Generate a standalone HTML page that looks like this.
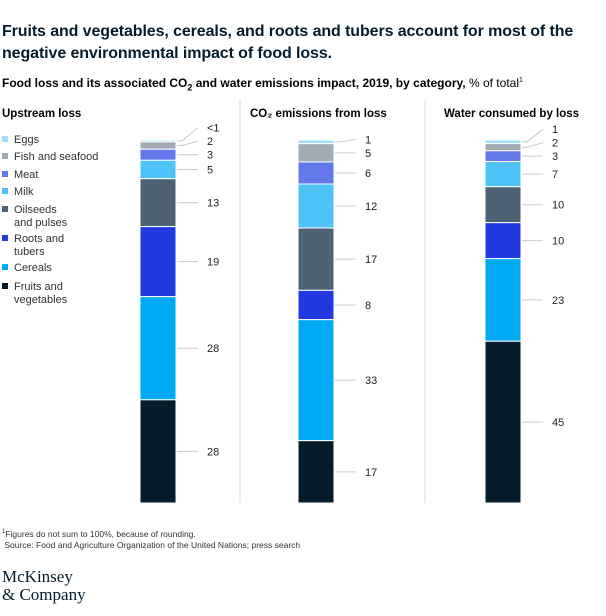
<!DOCTYPE html>
<html><head><meta charset="utf-8"><style>
body{margin:0;background:#fff;font-family:"Liberation Sans",sans-serif;color:#000;width:606px;height:616px;overflow:hidden;position:relative}
.t{position:absolute;white-space:nowrap}
</style></head><body>
<div class="t" style="left:2px;top:21px;font-size:16px;font-weight:bold;line-height:22px;color:#051c2c;letter-spacing:-0.1px">Fruits and vegetables, cereals, and roots and tubers account for most of the<br>negative environmental impact of food loss.</div>
<div class="t" style="left:2px;top:76px;font-size:12px;"><b>Food loss and its associated CO<sub style="font-size:9px">2</sub> and water emissions impact, 2019, by category,</b> % of total<sup style="font-size:7px">1</sup></div>
<svg width="606" height="616" style="position:absolute;left:0;top:0" id="svg"></svg>
<div class="t" style="left:2px;top:527px;font-size:8.5px;color:#333;line-height:11px"><sup style="font-size:6px">1</sup>Figures do not sum to 100%, because of rounding.<br>&nbsp;Source: Food and Agriculture Organization of the United Nations; press search</div>
<div class="t" style="left:2px;top:568px;font-family:'Liberation Serif',serif;font-size:17px;line-height:18px;color:#051c2c">McKinsey<br>&amp; Company</div>
<script>
const categories=["Eggs","Fish and seafood","Meat","Milk","Oilseeds and pulses","Roots and tubers","Cereals","Fruits and vegetables"];
const upstream=[0.5,2,3,5,13,19,28,28];
const upstreamLabels=["<1","2","3","5","13","19","28","28"];
const co2=[1,5,6,12,17,8,33,17];
const co2Labels=["1","5","6","12","17","8","33","17"];
const water=[1,2,3,7,10,10,23,45];
const waterLabels=["1","2","3","7","10","10","23","45"];
const colors=["#a3e1fb","#a2abb3","#6378ea","#4fc3f7","#4e6275","#203ae0","#00a9f4","#051c2c"];
const NS="http://www.w3.org/2000/svg";
const svg=document.getElementById('svg');
function mk(tag,attrs){const e=document.createElementNS(NS,tag);for(const k in attrs)e.setAttribute(k,attrs[k]);svg.appendChild(e);return e;}
const top0=140,bot=503;
const panels=[{x:140,vals:upstream,labs:upstreamLabels,title:"Upstream loss",tx:2},
{x:298,vals:co2,labs:co2Labels,title:"CO₂ emissions from loss",tx:250},
{x:485,vals:water,labs:waterLabels,title:"Water consumed by loss",tx:444}];
panels.forEach((p,pi)=>{
 const t=mk('text',{x:p.tx,y:117,'font-size':11.5,'font-weight':'bold','font-family':'Liberation Sans'});t.textContent=p.title;
 
 
 const sum=p.vals.reduce((a,b)=>a+b,0);const k=(bot-top0)/sum;
 let y=top0;const mids=[];
 p.vals.forEach((v,i)=>{const h=v*k;
  const r=mk('rect',{x:p.x,y:y,width:36,height:h,fill:colors[i],stroke:'#fff','stroke-width':1});
  
  
  mids.push(y+h/2);y+=h;});
 const labY=new Array(mids.length);let next=1e9;
 for(let i=mids.length-1;i>=0;i--){labY[i]=Math.min(mids[i],next-13.5);next=labY[i];}
 p.vals.forEach((v,i)=>{
  mk('polyline',{points:`${p.x+37},${mids[i]} ${p.x+42},${mids[i]} ${p.x+58},${labY[i]}`,fill:'none',stroke:'#ccc','stroke-width':1});
  const tt=mk('text',{x:p.x+67,y:labY[i]+4,'font-size':11,'font-family':'Liberation Sans',fill:'#222'});tt.textContent=p.labs[i];
  
  
 });
});
[240,425].forEach(x=>{const l=mk('line',{x1:x,x2:x,y1:100,y2:503,stroke:'#ddd'});});
const legY=[142,159,177,194,212,241,270,289];
const legText=[["Eggs"],["Fish and seafood"],["Meat"],["Milk"],["Oilseeds","and pulses"],["Roots and","tubers"],["Cereals"],["Fruits and","vegetables"]];
categories.forEach((c,i)=>{
 const r=mk('rect',{x:2,y:legY[i]-6,width:6,height:6,fill:colors[i]});
 
 
 legText[i].forEach((s,j)=>{const t=mk('text',{x:14,y:legY[i]+1+j*13,'font-size':11,'font-family':'Liberation Sans',fill:'#333'});t.textContent=s;
 
 });
});
</script>
</body></html>
